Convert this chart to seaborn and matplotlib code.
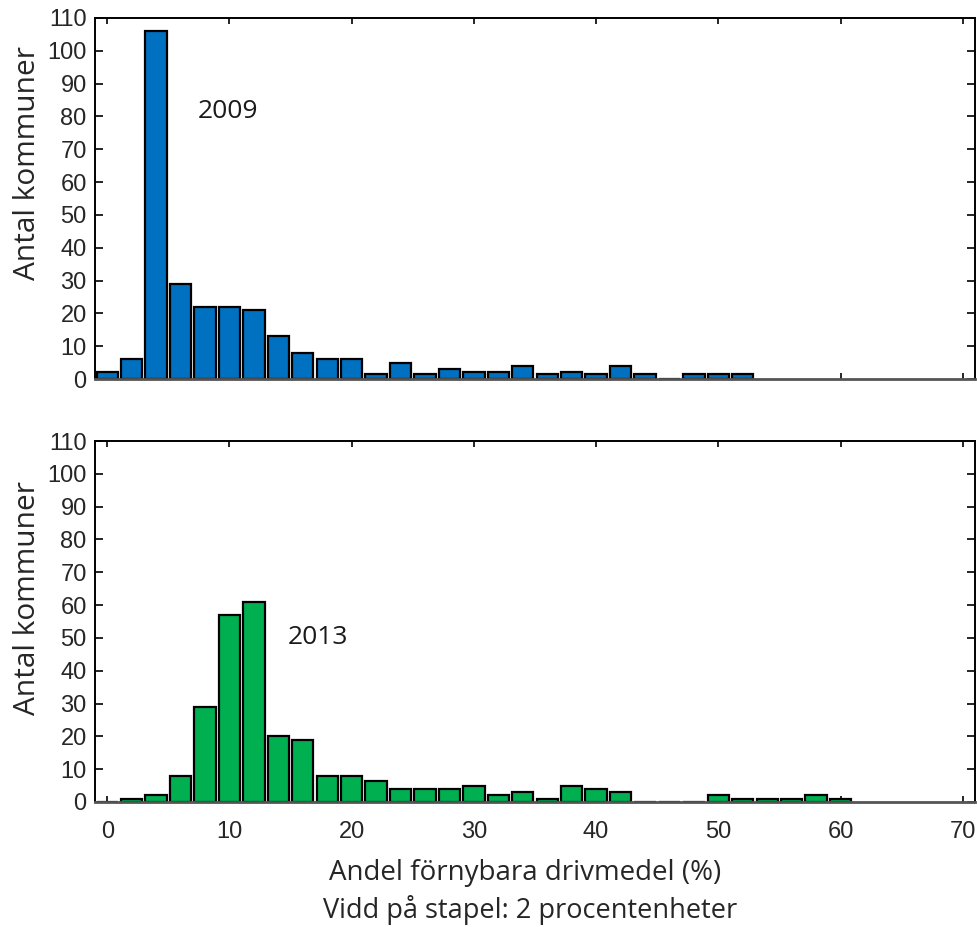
import matplotlib
matplotlib.use("Agg")
import matplotlib.pyplot as plt
import seaborn as sns
import numpy as np

# Bin centres (% renewable fuel share), 2 percentage-point bins
bins_2009 = [0, 2, 4, 6, 8, 10, 12, 14, 16, 18, 20, 22, 24, 26, 28, 30, 32, 34,
             36, 38, 40, 42, 44, 46, 48, 50, 52]
counts_2009 = [2, 6, 106, 29, 22, 22, 21, 13, 8, 6, 6, 1.5, 5, 1.5, 3, 2, 2, 4,
               1.5, 2, 1.5, 4, 1.5, 0, 1.5, 1.5, 1.5]

bins_2013 = [0, 2, 4, 6, 8, 10, 12, 14, 16, 18, 20, 22, 24, 26, 28, 30, 32, 34,
             36, 38, 40, 42, 44, 46, 48, 50, 52, 54, 56, 58, 60]
counts_2013 = [0, 1, 2, 8, 29, 57, 61, 20, 19, 8, 8, 6.5, 4, 4, 4, 5, 2, 3,
               1, 5, 4, 3, 0, 0, 0, 2, 1, 1, 1, 2, 1]

x_ticks = [0, 10, 20, 30, 40, 50, 60, 70]
y_ticks = [0, 10, 20, 30, 40, 50, 60, 70, 80, 90, 100, 110]

ylabel = "Antal kommuner"
xlabel = "Andel förnybara drivmedel (%)"
note = "Vidd på stapel: 2 procentenheter"

sns.set_style("white")
plt.rcParams['font.family'] = ['Open Sans', 'DejaVu Sans']

fig = plt.figure(figsize=(9.77, 9.27), dpi=100)
W, H = 977, 927

def px_axes(l, t, r, b):
    return fig.add_axes([l / W, (H - b) / H, (r - l) / W, (b - t) / H])

ax1 = px_axes(95, 18, 975, 379)
ax2 = px_axes(95, 441, 975, 802)

tick_font = ['Liberation Sans Narrow', 'Liberation Sans', 'DejaVu Sans']

for ax, xs, ys, col, lab, lx, ly in [
        (ax1, bins_2009, counts_2009, '#0070C0', '2009', 7.4, 81.5),
        (ax2, bins_2013, counts_2013, '#00B050', '2013', 14.8, 50.0)]:
    sns.barplot(x=xs, y=ys, native_scale=True, width=0.875, color=col,
                saturation=1, edgecolor='black', linewidth=1.6, ax=ax)
    ax.set_xlim(-1, 71)
    ax.set_ylim(0, 110)
    ax.set_xticks(x_ticks)
    ax.set_yticks(y_ticks)
    ax.tick_params(axis='both', direction='in', top=True, right=True,
                   bottom=True, left=True, color='black')
    ax.tick_params(axis='y', length=6, width=1.2)
    ax.tick_params(axis='x', length=4, width=1.2)
    for s in ax.spines.values():
        s.set_color('black')
        s.set_linewidth(1.4)
    ax.spines['bottom'].set_color('#555555')
    ax.spines['bottom'].set_linewidth(2)
    ax.set_xlabel('')
    ax.set_ylabel('')
    ax.text(lx, ly, lab, fontsize=19, ha='left', va='center', color='#1a1a1a')
    for t in ax.get_yticklabels():
        t.set_fontfamily(tick_font)
        t.set_fontsize(17)
    ax.tick_params(axis='y', pad=6)

ax1.set_xticklabels([])
for t in ax2.get_xticklabels():
    t.set_fontfamily(tick_font)
    t.set_fontsize(17)
ax2.tick_params(axis='x', pad=14)

fig.text(28 / W, 1 - 163 / H, ylabel, rotation=90, ha='center', va='center', fontsize=21.5)
fig.text(28 / W, 1 - 598 / H, ylabel, rotation=90, ha='center', va='center', fontsize=21.5)
fig.text(525 / W, 1 - 873 / H, xlabel, ha='center', va='center', fontsize=20)
fig.text(530 / W, 1 - 910 / H, note, ha='center', va='center', fontsize=19.5)

fig.savefig("out.png", dpi=100)
